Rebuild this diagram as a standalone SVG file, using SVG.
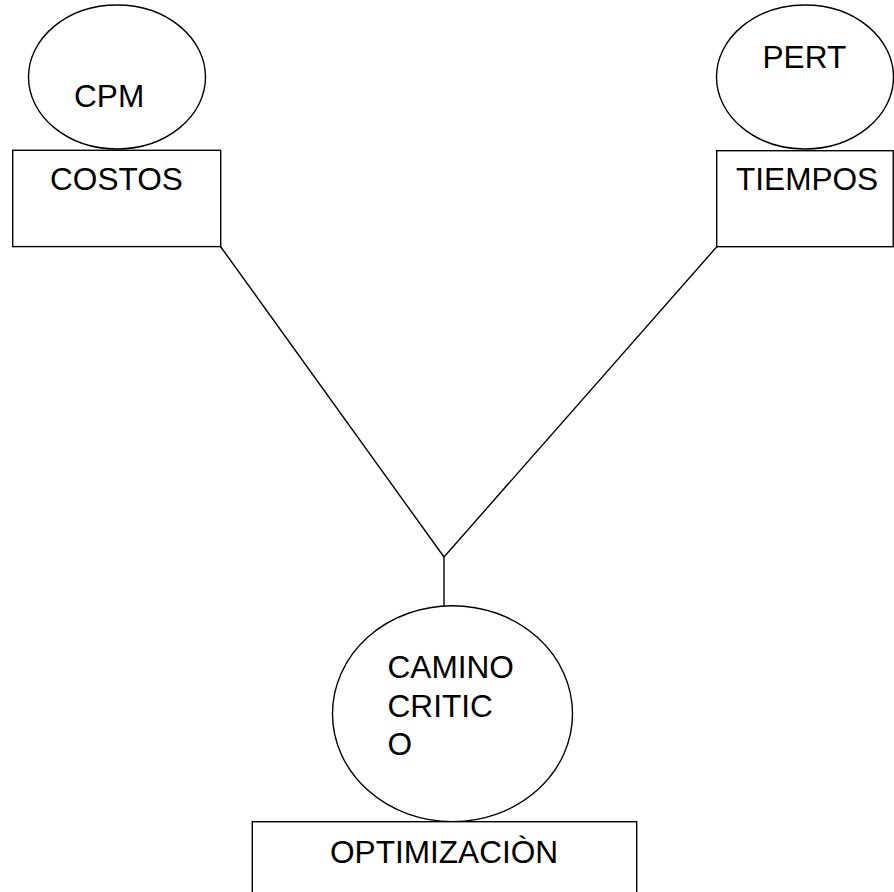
<svg xmlns="http://www.w3.org/2000/svg" width="894" height="892" viewBox="0 0 894 892">
<style>
.s{fill:none;stroke:#000;stroke-width:1.4}
.b{fill:#fff;stroke:#000;stroke-width:1.4}
text{font-family:"Liberation Sans",Arial,sans-serif;font-size:31.6px;fill:#000}
</style>
<rect width="894" height="892" fill="#fff"/>
<g id="connectors">
<line class="s" x1="220.5" y1="246.5" x2="444" y2="557"/>
<line class="s" x1="717" y1="246.5" x2="444" y2="557"/>
<line class="s" x1="444" y1="557" x2="444" y2="606"/>
</g>
<g id="cpm">
<ellipse class="b" cx="117" cy="77" rx="88.5" ry="72"/>
<text x="74" y="107">CPM</text>
</g>
<g id="costos">
<rect class="b" x="12.7" y="150.3" width="208" height="96.3"/>
<text x="50" y="190">COSTOS</text>
</g>
<g id="pert">
<ellipse class="b" cx="805" cy="77" rx="88.5" ry="72"/>
<text x="762.5" y="68">PERT</text>
</g>
<g id="tiempos">
<rect class="b" x="716.7" y="150.7" width="176.5" height="96"/>
<text x="736" y="190">TIEMPOS</text>
</g>
<g id="camino">
<ellipse class="b" cx="452.5" cy="713.7" rx="120" ry="108"/>
<text x="387.5" y="678.3">CAMINO</text>
<text x="387.5" y="716.7">CRITIC</text>
<text x="387.5" y="755">O</text>
</g>
<g id="optimizacion">
<rect class="b" x="252.3" y="821.7" width="384.4" height="80"/>
<text x="330" y="863.3">OPTIMIZACIÒN</text>
</g>
</svg>
